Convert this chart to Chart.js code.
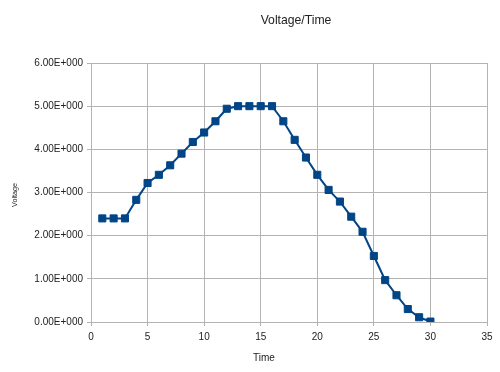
<!DOCTYPE html>
<html>
<head>
<meta charset="utf-8">
<script src="https://cdn.jsdelivr.net/npm/chart.js@4"></script>
<style>
  body { margin: 0; background: #fff; }
  #wrap { width: 500px; height: 372px; }
</style>
</head>
<body>
<div id="wrap"><canvas id="voltageChart" width="500" height="372"></canvas></div>
<script>
// Chart data
const times = [1, 2, 3, 4, 5, 6, 7, 8, 9, 10, 11, 12, 13, 14, 15, 16, 17, 18, 19, 20, 21, 22, 23, 24, 25, 26, 27, 28, 29, 30];
const voltages = [2.4, 2.4, 2.4, 2.83, 3.22, 3.41, 3.63, 3.9, 4.17, 4.39, 4.65, 4.94, 5.0, 5.0, 5.0, 5.0, 4.65, 4.22, 3.81, 3.41, 3.06, 2.79, 2.44, 2.09, 1.53, 0.97, 0.62, 0.3, 0.11, 0.01];
const xTicks = [0, 5, 10, 15, 20, 25, 30, 35];
const yTicks = [0, 1, 2, 3, 4, 5, 6];

const gridColor = '#b3b3b3';
const textColor = '#222';
const fontFamily = '"Liberation Sans", Arial, sans-serif';

// Format like 6.00E+000
function sciLabel(value) {
    if (value === 0) return '0.00E+000';
    const exp = Math.floor(Math.log10(Math.abs(value)));
    const mant = value / Math.pow(10, exp);
    const sign = exp < 0 ? '-' : '+';
    return mant.toFixed(2) + 'E' + sign + String(Math.abs(exp)).padStart(3, '0');
}

// Titles are placed where the original chart put them (not centred on the plot)
const titlePlugin = {
    id: 'chartTexts',
    afterDraw(chart) {
        const c = chart.ctx;
        c.save();
        c.fillStyle = textColor;
        c.textAlign = 'center';
        c.textBaseline = 'middle';

        c.font = '12.2px ' + fontFamily;
        c.fillText('Voltage/Time', 296, 21);

        c.font = '10px ' + fontFamily;
        c.fillText('Time', 264, 358);

        c.translate(15, 195);
        c.rotate(-Math.PI / 2);
        c.font = '7.2px ' + fontFamily;
        c.fillText('Voltage', 0, 0);
        c.restore();
    }
};

const points = times.map((t, i) => ({ x: t, y: voltages[i] }));

const ctx = document.getElementById('voltageChart').getContext('2d');
const chart = new Chart(ctx, {
    type: 'line',
    data: {
        datasets: [{
            label: 'Voltage',
            data: points,
            borderColor: '#004586',
            backgroundColor: '#004586',
            borderWidth: 2,
            pointStyle: 'rect',
            pointRadius: 5,
            pointBorderWidth: 1,
            tension: 0
        }]
    },
    plugins: [titlePlugin],
    options: {
        responsive: false,
        animation: false,
        layout: { padding: { left: 0, right: 13, top: 63, bottom: 0 } },
        plugins: {
            legend: { display: false },
            tooltip: { enabled: false },
            title: { display: false }
        },
        scales: {
            x: {
                type: 'linear',
                min: 0,
                max: 35,
                afterBuildTicks: scale => { scale.ticks = xTicks.map(v => ({ value: v })); },
                afterFit: scale => { scale.height = 50; },
                grid: { color: gridColor, tickLength: 4, drawTicks: true },
                border: { color: gridColor },
                ticks: {
                    color: textColor,
                    padding: 5,
                    maxRotation: 0,
                    font: { family: fontFamily, size: 10 }
                }
            },
            y: {
                min: 0,
                max: 6,
                afterBuildTicks: scale => { scale.ticks = yTicks.map(v => ({ value: v })); },
                afterFit: scale => { scale.width = 91; },
                grid: { color: gridColor, tickLength: 4, drawTicks: true },
                border: { color: gridColor },
                ticks: {
                    color: textColor,
                    padding: 4,
                    font: { family: fontFamily, size: 10 },
                    callback: value => sciLabel(value)
                }
            }
        }
    }
});
</script>
</body>
</html>
